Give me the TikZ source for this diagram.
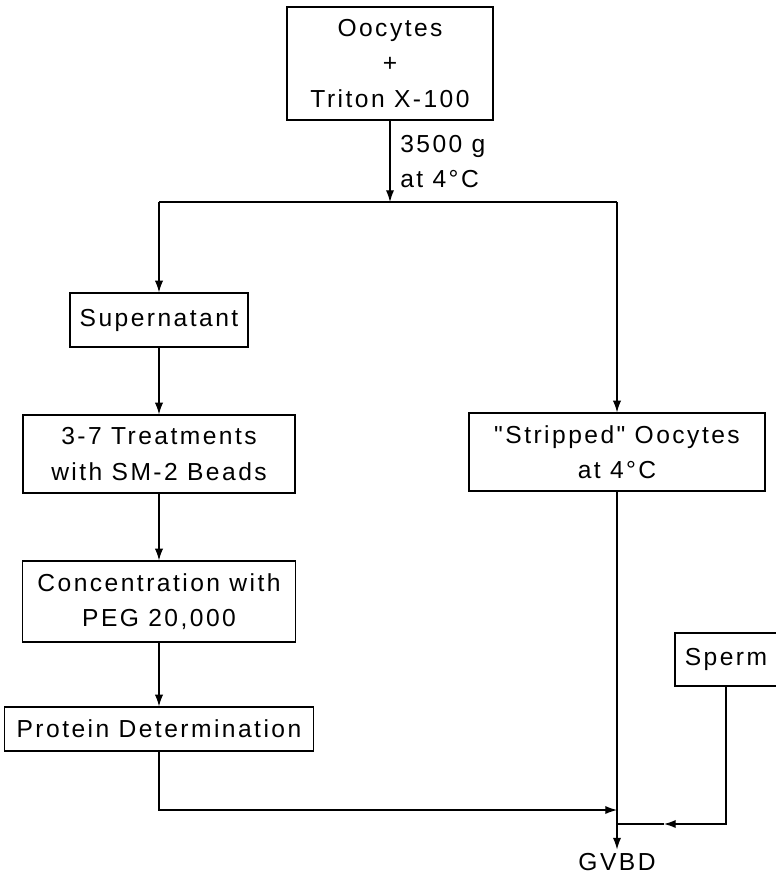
\documentclass[tikz,border=0pt]{standalone}
\usepackage{fontspec}
\newfontfamily\chartfont{Liberation Sans}[LetterSpace=10]
\usepackage{tikz}
\usetikzlibrary{arrows.meta,positioning}

\begin{document}
\begin{tikzpicture}[x=0.03cm, y=-0.03cm,
  every node/.style={font=\chartfont\fontsize{21}{30}\selectfont},
  box/.style={draw, line width=1pt, inner sep=0pt, align=center},
  flow/.style={line width=1pt, -{Latex[length=10pt,width=7pt]}},
  link/.style={line width=1pt}]
\useasboundingbox (0,0) rectangle (775,874);
% Boxes
\node[box, minimum width=6.18cm, minimum height=3.39cm] (oocytes) at (390,63.5) {Oocytes\\+\\Triton X-100};
\node[box, minimum width=5.34cm, minimum height=1.62cm] (super) at (159,320) {Supernatant};
\node[box, minimum width=8.16cm, minimum height=2.34cm] (treat) at (159,454) {3-7 Treatments\\with SM-2 Beads};
\node[box, minimum width=8.19cm, minimum height=2.43cm] (conc) at (159,601.5) {Concentration with\\PEG 20,000};
\node[box, minimum width=9.27cm, minimum height=1.32cm] (prot) at (159,729) {Protein Determination};
\node[box, minimum width=8.88cm, minimum height=2.34cm] (strip) at (617,452) {"Stripped" Oocytes\\at 4°C};
\node[box, minimum width=3.06cm, minimum height=1.59cm] (sperm) at (726,659.5) {Sperm};
\node[inner sep=3pt] (gvbd) at (617,862) {GVBD};
% Junctions
\coordinate (split) at (390,202);
\coordinate (splitl) at (159,202);
\coordinate (splitr) at (617,202);
\coordinate (joinp) at (617,810);
\coordinate (joins) at (617,824);
\coordinate (spermtip) at (664,824);
% Connectors
\draw[flow] (oocytes) -- node[right=5pt, align=left] (spin) {3500 g\\at 4°C} (split);
\draw[link] (splitl) -- (splitr);
\draw[flow] (splitl) -- (super);
\draw[flow] (splitr) -- (strip);
\draw[flow] (super) -- (treat);
\draw[flow] (treat) -- (conc);
\draw[flow] (conc) -- (prot);
\draw[flow] (prot) |- (joinp);
\draw[flow] (strip) -- (gvbd);
\draw[flow] (sperm) |- (spermtip);
\draw[link] (spermtip) -- (joins);
\end{tikzpicture}
\end{document}
